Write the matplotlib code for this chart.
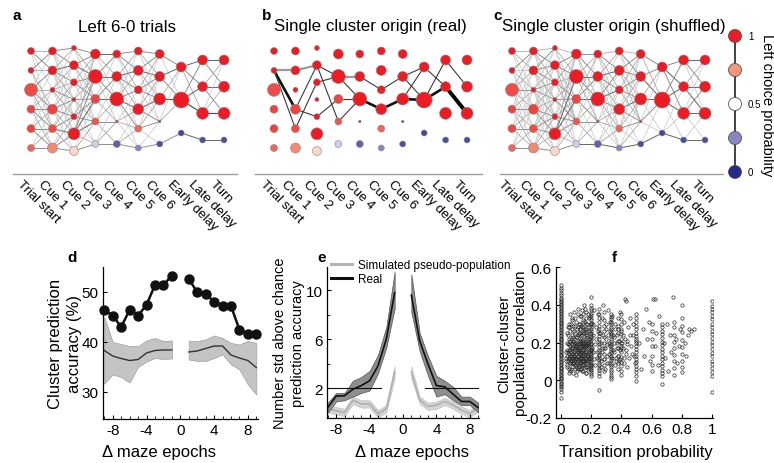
import numpy as np
import matplotlib
matplotlib.use('Agg')
import matplotlib.pyplot as plt
from matplotlib.colors import LinearSegmentedColormap
from matplotlib.lines import Line2D

plt.rcParams['font.family'] = ['Liberation Sans', 'DejaVu Sans']
plt.rcParams['axes.unicode_minus'] = False

# ---------------- data: networks (a, b, c) ----------------
epochs = ['Trial start', 'Cue 1', 'Cue 2', 'Cue 3', 'Cue 4', 'Cue 5', 'Cue 6',
          'Early delay', 'Late delay', 'Turn']

# left-choice probability of each cluster (top to bottom in each epoch)
node_prob = [
    [1.0, 1.0, 0.9, 0.92, 0.92, 0.85],
    [1.0, 1.0, 1.0, 0.92, 0.9, 0.78],
    [1.0, 1.0, 1.0, 1.0, 1.0, 1.0, 0.6],
    [1.0, 1.0, 0.92, 0.88, 0.4],
    [1.0, 1.0, 1.0, 1.0, 0.15],
    [1.0, 1.0, 1.0, 1.0, 0.85, 0.25],
    [1.0, 1.0, 1.0, 1.0, 0.1],
    [1.0, 1.0, 0.08],
    [1.0, 1.0, 1.0, 0.1],
    [1.0, 1.0, 1.0, 0.1],
]
# cluster size (marker diameter, px)
node_size = [
    [7, 6, 13, 8, 8, 7],
    [8, 9, 5, 10, 8, 10],
    [5, 9, 7, 4, 6, 12, 9],
    [10, 14, 9, 7, 7],
    [8, 10, 14, 2.5, 7],
    [8, 10, 8, 11, 7, 6],
    [9, 10, 12, 2.5, 6],
    [10, 16, 6],
    [10, 10, 12, 6],
    [10, 11, 12, 6],
]

# transition strengths between consecutive epochs (digit 0-9 per pair)
edges_a = [
    ["231010", "320210", "132321", "012332", "001233", "000123"],
    ["3311100", "2432110", "1223210", "0123321", "0012342", "0001233"],
    ["32100", "34210", "23310", "12321", "12331", "23442", "00123"],
    ["42100", "34310", "13420", "01232", "00123"],
    ["332100", "243210", "123431", "001221", "000123"],
    ["32100", "34210", "23310", "12430", "01231", "00013"],
    ["310", "430", "250", "120", "003"],
    ["4320", "3450", "0004"],
    ["4300", "2430", "1250", "0004"],
]
edges_c = [
    ["221100", "312110", "223211", "112322", "011232", "001123"],
    ["2321100", "3332110", "1233211", "1122331", "0112332", "0011223"],
    ["22110", "33221", "22320", "12331", "11232", "24432", "00123"],
    ["33210", "24320", "23431", "11232", "00124"],
    ["232110", "243211", "134321", "011221", "001124"],
    ["23110", "33220", "23320", "12431", "11231", "00124"],
    ["320", "340", "241", "131", "014"],
    ["3430", "3441", "0114"],
    ["4310", "2440", "1341", "0014"],
]
# single-origin paths: (epoch, from cluster, to cluster, strength 1-4)
edges_b = [
    (0, 1, 1, 2), (0, 1, 3, 3), (0, 1, 4, 1),
    (1, 1, 1, 2), (1, 3, 1, 1), (1, 3, 4, 1), (1, 4, 2, 1),
    (2, 1, 1, 1), (2, 1, 3, 1), (2, 2, 1, 1), (2, 4, 2, 1),
    (3, 1, 1, 2), (3, 1, 2, 1), (3, 2, 2, 1), (3, 3, 2, 1),
    (4, 1, 2, 1), (4, 2, 3, 3),
    (5, 2, 1, 1), (5, 3, 2, 3),
    (6, 1, 0, 1), (6, 2, 0, 1), (6, 1, 1, 1), (6, 2, 1, 3),
    (7, 0, 1, 1), (7, 1, 0, 1), (7, 1, 1, 3),
    (8, 0, 1, 1), (8, 1, 2, 4),
]
legend_probs = [0.0, 0.25, 0.5, 0.75, 1.0]
legend_labels = {1.0: '1', 0.5: '0.5', 0.0: '0'}

# ---------------- data: d ----------------
d_x_left = [-9, -8, -7, -6, -5, -4, -3, -2, -1]
d_x_right = [1, 2, 3, 4, 5, 6, 7, 8, 9]
d_real_left = [46.4, 45.3, 43.0, 46.4, 45.3, 47.4, 51.4, 51.4, 53.3]
d_real_right = [52.6, 50.0, 49.7, 48.0, 47.2, 47.2, 42.5, 41.6, 41.6]
d_shuf_left = [38.3, 37.2, 36.7, 36.3, 36.5, 37.8, 38.3, 38.4, 38.4]
d_shuf_right = [38.0, 38.2, 38.7, 39.2, 39.2, 37.4, 36.8, 36.3, 34.9]
d_shuf_hi_left = [45.0, 40.0, 39.6, 39.2, 39.2, 40.3, 40.8, 40.2, 40.3]
d_shuf_lo_left = [31.7, 33.5, 33.0, 31.9, 35.0, 36.1, 36.8, 36.6, 36.7]
d_shuf_hi_right = [40.2, 40.2, 40.5, 41.3, 40.8, 39.8, 39.5, 40.2, 39.8]
d_shuf_lo_right = [36.5, 36.2, 36.2, 36.8, 37.5, 35.5, 34.5, 31.5, 29.5]

# ---------------- data: e ----------------
e_x_left = [-9, -8, -7, -6, -5, -4, -3, -2, -1]
e_x_right = [1, 2, 3, 4, 5, 6, 7, 8, 9]
e_real_left = [0.42, 1.35, 1.37, 1.9, 2.2, 2.6, 3.8, 6.0, 9.8]
e_real_hi_left = [0.8, 1.6, 1.6, 2.6, 2.9, 3.4, 4.7, 7.0, 11.5]
e_real_lo_left = [0.0, 0.9, 1.0, 1.3, 1.6, 1.8, 3.2, 5.3, 8.5]
e_real_right = [9.6, 5.85, 3.95, 2.2, 2.1, 1.5, 0.9, 0.9, 0.4]
e_real_hi_right = [11.3, 6.5, 4.6, 3.0, 2.6, 2.1, 1.3, 1.3, 0.8]
e_real_lo_right = [8.2, 5.0, 3.0, 1.3, 1.5, 1.0, 0.6, 0.6, 0.0]
e_sim_left = [0.3, 0.15, 0.0, 1.0, 0.7, 0.7, -0.1, 0.3, 3.3]
e_sim_hi_left = [0.6, 0.45, 0.3, 1.3, 1.0, 1.0, 0.2, 0.6, 3.8]
e_sim_lo_left = [0.0, -0.15, -0.3, 0.7, 0.4, 0.4, -0.4, 0.0, 2.8]
e_sim_right = [3.3, 1.0, 0.5, 0.6, 0.9, 0.6, 0.2, -0.1, 0.4]
e_sim_hi_right = [3.8, 1.3, 0.8, 0.9, 1.2, 0.9, 0.5, 0.2, 0.7]
e_sim_lo_right = [2.8, 0.7, 0.2, 0.3, 0.6, 0.3, -0.1, -0.4, 0.1]
e_threshold = 2.0
e_threshold_left = [-9, -2.6]
e_threshold_right = [2.6, 9]

# ---------------- data: f ----------------
f_y_p0 = [0.502, 0.49, 0.476, 0.462, 0.45, 0.436, 0.428, 0.42, 0.413, 0.404, 0.397, 0.39,
          0.381, 0.373, 0.366, 0.358, 0.349, 0.343, 0.335, 0.326, 0.319, 0.311, 0.303,
          0.296, 0.287, 0.281, 0.272, 0.264, 0.257, 0.249, 0.241, 0.234, 0.226, 0.218,
          0.211, 0.202, 0.196, 0.188, 0.179, 0.172, 0.164, 0.157, 0.149, 0.141, 0.134,
          0.126, 0.118, 0.111, 0.103, 0.096, 0.088, 0.079, 0.072, 0.065, 0.057, 0.049,
          0.042, 0.034, 0.027, 0.019, 0.011, 0.004, -0.004, -0.012, -0.02, -0.029,
          -0.038, -0.047, -0.06, -0.094]
f_y_p125 = [0.34, 0.3, 0.27, 0.24, 0.21, 0.18, 0.15, 0.12, 0.09, 0.06]
f_y_p143 = [0.35, 0.31, 0.28, 0.25, 0.22, 0.19, 0.16, 0.13, 0.1, 0.08, 0.05]
f_y_p167 = [0.36, 0.33, 0.3, 0.27, 0.24, 0.21, 0.18, 0.15, 0.12, 0.1, 0.07, 0.04]
f_y_p200 = [0.40, 0.385, 0.37, 0.355, 0.345, 0.332, 0.318, 0.305, 0.296, 0.284, 0.27,
            0.26, 0.247, 0.236, 0.224, 0.213, 0.2, 0.19, 0.178, 0.167, 0.155, 0.143,
            0.132, 0.121, 0.11, 0.099, 0.088, 0.077, 0.066, 0.055, 0.044, 0.033, 0.022]
f_y_p250 = [0.38, 0.352, 0.33, 0.31, 0.288, 0.27, 0.252, 0.236, 0.22, 0.205, 0.19, 0.176,
            0.162, 0.148, 0.134, 0.12, 0.106, 0.093, 0.08, 0.066, 0.052, 0.038, 0.02]
f_y_p286 = [0.36, 0.32, 0.29, 0.26, 0.23, 0.2, 0.17, 0.14, 0.11, 0.08, 0.05]
f_y_p333 = [0.35, 0.337, 0.322, 0.31, 0.296, 0.283, 0.27, 0.258, 0.245, 0.232, 0.219,
            0.207, 0.194, 0.181, 0.168, 0.156, 0.143, 0.131, 0.118, 0.105, 0.093, 0.08,
            0.068, 0.055, 0.043, 0.03, 0.018, 0.005]
f_y_p375 = [0.33, 0.29, 0.25, 0.21, 0.17, 0.13, 0.09, 0.06]
f_y_p400 = [0.35, 0.322, 0.296, 0.27, 0.245, 0.22, 0.196, 0.172, 0.148, 0.122, 0.098,
            0.073, 0.05, 0.03]
f_y_p500 = [0.35, 0.33, 0.31, 0.29, 0.272, 0.252, 0.235, 0.218, 0.2, 0.183, 0.165, 0.148,
            0.13, 0.112, 0.095, 0.078, 0.06, 0.042, 0.022, -0.005]
f_y_p600 = [0.30, 0.26, 0.22, 0.18, 0.13, 0.08, 0.05]
f_y_p667 = [0.30, 0.28, 0.262, 0.243, 0.225, 0.205, 0.186, 0.168, 0.15, 0.13, 0.112,
            0.094, 0.075, 0.056, 0.038, 0.02, -0.02]
f_y_p750 = [0.31, 0.28, 0.24, 0.205, 0.17, 0.135, 0.1, 0.065, 0.03]
f_y_p800 = [0.40, 0.33, 0.29, 0.255, 0.215, 0.175, 0.14, 0.1, 0.07, 0.045]
f_y_p1000 = [0.42, 0.395, 0.378, 0.36, 0.34, 0.322, 0.3, 0.283, 0.262, 0.243, 0.224,
             0.205, 0.185, 0.164, 0.145, 0.126, 0.104, 0.085, 0.066, 0.045, 0.024, -0.06]
f_col_x = [0.0, 0.125, 0.143, 0.167, 0.2, 0.25, 0.286, 0.333, 0.375, 0.4, 0.5, 0.6,
           0.667, 0.75, 0.8, 1.0]
f_col_y = [f_y_p0, f_y_p125, f_y_p143, f_y_p167, f_y_p200, f_y_p250, f_y_p286, f_y_p333,
           f_y_p375, f_y_p400, f_y_p500, f_y_p600, f_y_p667, f_y_p750, f_y_p800, f_y_p1000]
f_cloud_x = [0.035, 0.038, 0.04, 0.042, 0.045, 0.047, 0.05, 0.05, 0.052, 0.055, 0.057, 0.06,
             0.06, 0.062, 0.064, 0.066, 0.068, 0.07, 0.07, 0.072, 0.074, 0.076, 0.078, 0.08,
             0.08, 0.082, 0.084, 0.086, 0.088, 0.09, 0.09, 0.092, 0.094, 0.096, 0.098, 0.1,
             0.1, 0.102, 0.104, 0.106, 0.108, 0.11, 0.112, 0.114, 0.116, 0.118, 0.12, 0.12,
             0.122, 0.124, 0.128, 0.13, 0.132, 0.134, 0.136, 0.138, 0.14, 0.14, 0.145, 0.148,
             0.15, 0.152, 0.155, 0.157, 0.16, 0.162, 0.164, 0.17, 0.172, 0.175, 0.178, 0.18,
             0.182, 0.185, 0.188, 0.19, 0.192, 0.195, 0.197, 0.06, 0.045, 0.055, 0.1, 0.075,
             0.13, 0.11, 0.085, 0.065, 0.095, 0.105, 0.115, 0.125, 0.135, 0.145, 0.155, 0.165,
             0.175, 0.185, 0.195,
             0.21, 0.215, 0.22, 0.225, 0.23, 0.235, 0.24, 0.245, 0.26, 0.265, 0.27, 0.275,
             0.28, 0.29, 0.295, 0.3, 0.305, 0.31, 0.315, 0.32, 0.325, 0.34, 0.345, 0.35,
             0.355, 0.36, 0.365, 0.37, 0.38, 0.385, 0.39, 0.395, 0.41, 0.415, 0.42, 0.425,
             0.43, 0.435, 0.44, 0.445,
             0.46, 0.47, 0.48, 0.49, 0.52, 0.53, 0.54, 0.55, 0.56, 0.57, 0.58, 0.59, 0.61,
             0.62, 0.63, 0.64, 0.65, 0.68, 0.69, 0.7, 0.71, 0.72, 0.73, 0.74, 0.76, 0.77,
             0.78, 0.79, 0.82, 0.83, 0.84, 0.85, 0.86, 0.88, 0.62, 0.25, 0.43, 0.2, 0.15]
f_cloud_y = [0.12, 0.2, 0.08, 0.16, 0.24, 0.1, 0.06, 0.3, 0.14, 0.19, 0.09, 0.26,
             0.12, 0.05, 0.17, 0.22, 0.1, 0.33, 0.14, 0.07, 0.2, 0.27, 0.12, 0.04,
             0.17, 0.23, 0.09, 0.36, 0.15, 0.29, 0.06, 0.19, 0.11, 0.25, 0.08, 0.14,
             0.31, 0.2, 0.05, 0.17, 0.23, 0.1, 0.28, 0.13, 0.35, 0.07, 0.19, 0.25,
             0.11, 0.16, 0.21, 0.08, 0.29, 0.13, 0.37, 0.18, 0.05, 0.24, 0.1, 0.32,
             0.15, 0.2, 0.07, 0.27, 0.12, 0.38, 0.17, 0.09, 0.23, 0.3, 0.14, 0.06,
             0.19, 0.26, 0.11, 0.34, 0.16, 0.22, 0.08, 0.35, 0.28, 0.04, 0.03, 0.32,
             0.34, 0.38, 0.26, 0.13, 0.17, 0.09, 0.21, 0.27, 0.06, 0.14, 0.25, 0.04,
             0.2, 0.33, 0.12,
             0.3, 0.15, 0.37, 0.08, 0.22, 0.28, 0.12, 0.35, 0.25, 0.1, 0.33, 0.17,
             0.4, 0.06, 0.22, 0.3, 0.13, 0.37, 0.2, 0.09, 0.26, 0.34, 0.16, 0.23,
             0.08, 0.3, 0.12, 0.2, 0.27, 0.1, 0.36, 0.18, 0.24, 0.12, 0.31, 0.43,
             0.16, 0.07, 0.21, 0.28,
             0.33, 0.14, 0.24, 0.09, 0.2, 0.06, 0.27, 0.13, 0.38, 0.22, 0.31, 0.1, 0.43,
             0.18, 0.25, 0.08, 0.34, 0.2, 0.12, 0.3, 0.05, 0.24, 0.15, 0.44, 0.22, 0.09,
             0.18, 0.27, 0.2, 0.13, 0.24, 0.27, 0.26, 0.27, 0.43, -0.05, 0.42, 0.44, 0.4]
f_cloud2 = [
    (0.033, 0.15), (0.036, 0.1), (0.039, 0.25), (0.041, 0.13), (0.043, 0.07), (0.046, 0.19),
    (0.048, 0.15), (0.051, 0.22), (0.053, 0.11), (0.054, 0.28), (0.056, 0.16), (0.058, 0.13),
    (0.059, 0.21), (0.061, 0.09), (0.063, 0.18), (0.065, 0.3), (0.067, 0.15), (0.069, 0.06),
    (0.071, 0.24), (0.073, 0.11), (0.075, 0.17), (0.077, 0.14), (0.079, 0.09), (0.081, 0.29),
    (0.083, 0.13), (0.085, 0.2), (0.087, 0.1), (0.089, 0.22), (0.091, 0.14), (0.093, 0.08),
    (0.095, 0.33), (0.097, 0.18), (0.099, 0.12), (0.101, 0.23), (0.103, 0.16), (0.105, 0.27),
    (0.107, 0.11), (0.109, 0.19), (0.111, 0.06), (0.113, 0.15), (0.115, 0.24), (0.117, 0.1),
    (0.119, 0.3), (0.121, 0.14), (0.123, 0.2), (0.126, 0.09), (0.127, 0.17), (0.129, 0.25),
    (0.131, 0.12), (0.133, 0.19), (0.135, 0.15), (0.137, 0.1), (0.139, 0.28), (0.141, 0.16),
    (0.144, 0.21), (0.146, 0.08), (0.147, 0.18), (0.149, 0.13), (0.151, 0.26), (0.153, 0.1),
    (0.154, 0.17), (0.156, 0.22), (0.158, 0.14), (0.159, 0.31), (0.161, 0.09), (0.163, 0.2),
    (0.166, 0.15), (0.168, 0.26), (0.169, 0.11), (0.171, 0.18), (0.173, 0.07), (0.174, 0.24),
    (0.176, 0.13), (0.177, 0.35), (0.179, 0.17), (0.181, 0.1), (0.183, 0.22), (0.184, 0.15),
    (0.186, 0.28), (0.187, 0.08), (0.189, 0.19), (0.191, 0.13), (0.193, 0.25), (0.194, 0.06),
    (0.196, 0.16), (0.198, 0.3), (0.07, 0.19), (0.08, 0.21), (0.09, 0.16), (0.1, 0.18),
    (0.11, 0.13), (0.12, 0.16), (0.13, 0.14), (0.14, 0.12), (0.15, 0.1), (0.16, 0.18),
    (0.17, 0.13), (0.18, 0.2), (0.19, 0.1), (0.05, 0.12), (0.06, 0.16), (0.07, 0.09),
    (0.08, 0.12), (0.09, 0.11), (0.1, 0.07), (0.11, 0.17), (0.12, 0.08), (0.13, 0.22),
    (0.14, 0.2), (0.15, 0.18),
    (0.205, 0.17), (0.212, 0.24), (0.218, 0.11), (0.228, 0.19), (0.238, 0.15), (0.242, 0.26),
    (0.255, 0.13), (0.262, 0.2), (0.268, 0.07), (0.272, 0.15), (0.278, 0.24), (0.283, 0.11),
    (0.292, 0.17), (0.298, 0.27), (0.302, 0.09), (0.308, 0.19), (0.312, 0.24), (0.318, 0.14),
    (0.322, 0.31), (0.328, 0.18), (0.338, 0.12), (0.342, 0.24), (0.348, 0.2), (0.352, 0.15),
    (0.358, 0.27), (0.362, 0.1), (0.368, 0.17), (0.372, 0.24), (0.378, 0.13), (0.382, 0.21),
    (0.388, 0.16), (0.392, 0.11), (0.398, 0.26), (0.405, 0.2), (0.412, 0.17), (0.418, 0.09),
    (0.422, 0.22), (0.428, 0.14), (0.438, 0.19), (0.448, 0.12), (0.455, 0.24), (0.465, 0.18),
    (0.475, 0.3), (0.485, 0.13), (0.495, 0.21),
]

# ---------------- figure ----------------
W, H = 774, 464
fig = plt.figure(figsize=(W / 100, H / 100), dpi=100)


def px_axes(x0, y0, x1, y1):
    return fig.add_axes([x0 / W, 1 - y1 / H, (x1 - x0) / W, (y1 - y0) / H])


def ftext(x, y, s, **kw):
    return fig.text(x / W, 1 - y / H, s, **kw)


cmap = LinearSegmentedColormap.from_list(
    'lcp', [(0, '#262b85'), (0.25, '#8785c2'), (0.5, '#ffffff'),
            (0.75, '#f5977d'), (1, '#ec1c24')])

ROW_SPAN = {3: (68, 134), 4: (61, 141), 5: (55, 145), 6: (52, 149), 7: (49, 152)}
STEP = 21.45


def draw_network(box, col0, edge_mats=None, edge_list=None):
    x0, y0, x1, y1 = box
    ax = px_axes(x0, y0, x1, y1)
    ax.set_xlim((x0 - col0) / STEP, (x1 - col0) / STEP)
    ax.set_ylim(y1, y0)
    ypos = [np.linspace(ROW_SPAN[len(p)][0], ROW_SPAN[len(p)][1], len(p)) for p in node_prob]
    if edge_mats is not None:
        for k, mat in enumerate(edge_mats):
            for i, row in enumerate(mat):
                for j, ch in enumerate(row):
                    w = int(ch)
                    if w:
                        g = max(0.25, 0.86 - 0.11 * w)
                        ax.plot([k, k + 1], [ypos[k][i], ypos[k + 1][j]],
                                color=(g, g, g), lw=0.35 + 0.1 * w, zorder=1)
    if edge_list is not None:
        style = {1: ('#3a3a3a', 0.8), 2: ('#9a9a9a', 1.6), 3: ('#111111', 1.9),
                 4: ('#000000', 2.8)}
        for k, i, j, w in edge_list:
            c, lw = style[w]
            ax.plot([k, k + 1], [ypos[k][i], ypos[k + 1][j]], color=c, lw=lw,
                    zorder=1, solid_capstyle='round')
    for k in range(len(node_prob)):
        s = [(d * 0.72) ** 2 for d in node_size[k]]
        ax.scatter([k] * len(ypos[k]), ypos[k], s=s, c=cmap(np.array(node_prob[k])),
                   edgecolors='#8a8a8a', linewidths=0.4, zorder=3)
    for k, lab in enumerate(epochs):
        ax.text(k - 8 / STEP, y1 + 3.5, lab, rotation=-45, rotation_mode='anchor',
                ha='left', va='top', fontsize=9.5, clip_on=False)
    for s in ['top', 'right', 'left']:
        ax.spines[s].set_visible(False)
    ax.spines['bottom'].set_color('#a0a0a0')
    ax.spines['bottom'].set_linewidth(1.0)
    ax.set_xticks([])
    ax.set_yticks([])
    ax.patch.set_alpha(0)
    return ax


draw_network((13, 40, 237, 175), 31, edge_mats=edges_a)
draw_network((255, 40, 482, 175), 274, edge_list=edges_b)
draw_network((500, 40, 723, 175), 512, edge_mats=edges_c)

ftext(127.5, 27, 'Left 6-0 trials', ha='center', va='center', fontsize=12.2)
ftext(370, 27, 'Single cluster origin (real)', ha='center', va='center', fontsize=12.2)
ftext(614, 27, 'Single cluster origin (shuffled)', ha='center', va='center', fontsize=12.2)
ftext(17, 16, 'a', ha='center', va='center', fontsize=11, fontweight='bold')
ftext(267, 16, 'b', ha='center', va='center', fontsize=11, fontweight='bold')
ftext(498, 16, 'c', ha='center', va='center', fontsize=11, fontweight='bold')

# colour legend
axl = px_axes(723, 25, 747, 185)
axl.set_xlim(-1, 1)
axl.set_ylim(-(185 - 173) / 136, 1 + (37 - 25) / 136)
axl.plot([0, 0], [0, 1], color='#333333', lw=1.3, zorder=1)
axl.scatter([0] * len(legend_probs), legend_probs, s=(13 * 0.72) ** 2,
            c=cmap(np.array(legend_probs)), edgecolors='#555555', linewidths=0.6, zorder=3)
for p, lab in legend_labels.items():
    axl.text(13 / 12, p, lab, ha='left', va='center', fontsize=7, clip_on=False)
axl.text(32 / 12, 0.5, 'Left choice probability', rotation=-90, ha='center', va='center',
         fontsize=10.5, clip_on=False)
axl.axis('off')


def style_bottom(ax):
    for s in ['top', 'right']:
        ax.spines[s].set_visible(False)
    for s in ['left', 'bottom']:
        ax.spines[s].set_linewidth(0.9)
    ax.tick_params(direction='in', length=3, width=0.8, labelsize=11, pad=3)
    ax.tick_params(which='minor', direction='in', length=2, width=0.6)
    ax.patch.set_alpha(0)


# ---------------- d ----------------
axd = px_axes(103, 268, 258, 420)
for xs, lo, hi, m in [(d_x_left, d_shuf_lo_left, d_shuf_hi_left, d_shuf_left),
                      (d_x_right, d_shuf_lo_right, d_shuf_hi_right, d_shuf_right)]:
    axd.fill_between(xs, lo, hi, facecolor='#c4c4c4', edgecolor='#a0a0a0', lw=0.5, zorder=1)
    axd.plot(xs, m, color='#333333', lw=1.0, zorder=2)
for xs, ys in [(d_x_left, d_real_left), (d_x_right, d_real_right)]:
    axd.plot(xs, ys, color='#111111', lw=1.8, marker='o', ms=6.5, mfc='#111111',
             mec='#111111', zorder=3, clip_on=False)
axd.set_xlim(-9.15, 9.2)
axd.set_ylim(24.6, 55)
axd.set_xticks([-8, -4, 0, 4, 8])
axd.set_xticks(list(range(-9, 10)), minor=True)
axd.set_yticks([30, 40, 50])
style_bottom(axd)
axd.set_xlabel('\u0394 maze epochs', fontsize=12)
axd.xaxis.set_label_coords((159 - 103) / 155, -(453 - 420) / 152)
axd.xaxis.label.set_va('center')
axd.set_ylabel('Cluster prediction\naccuracy (%)', fontsize=12, linespacing=1.35)
axd.yaxis.set_label_coords((65 - 103) / 155, 0.5)
axd.yaxis.label.set_va('center')

# ---------------- e ----------------
axe = px_axes(327, 268, 479, 419)
for xs, lo, hi, m in [(e_x_left, e_sim_lo_left, e_sim_hi_left, e_sim_left),
                      (e_x_right, e_sim_lo_right, e_sim_hi_right, e_sim_right)]:
    axe.fill_between(xs, lo, hi, facecolor='#d4d4d4', edgecolor='#c4c4c4', lw=0.5, zorder=1)
    axe.plot(xs, m, color='#b0b0b0', lw=1.2, zorder=2)
for xs, lo, hi, m in [(e_x_left, e_real_lo_left, e_real_hi_left, e_real_left),
                      (e_x_right, e_real_lo_right, e_real_hi_right, e_real_right)]:
    axe.fill_between(xs, lo, hi, facecolor='#8e8e8e', edgecolor='#555555', lw=0.5, zorder=3)
    axe.plot(xs, m, color='#111111', lw=1.2, zorder=4)
axe.plot(e_threshold_left, [e_threshold] * 2, color='#111111', lw=0.8, zorder=5)
axe.plot(e_threshold_right, [e_threshold] * 2, color='#111111', lw=0.8, zorder=5)
axe.set_xlim(-9.1, 9.1)
axe.set_ylim(-0.45, 11.9)
axe.set_xticks([-8, -4, 0, 4, 8])
axe.set_xticks(list(range(-9, 10)), minor=True)
axe.set_yticks([2, 6, 10])
axe.set_yticks([4, 8], minor=True)
style_bottom(axe)
axe.set_xlabel('\u0394 maze epochs', fontsize=12)
axe.xaxis.set_label_coords((412 - 327) / 152, -(453 - 419) / 151)
axe.xaxis.label.set_va('center')
axe.set_ylabel('Number std above chance\nprediction accuracy', fontsize=10.5,
               linespacing=1.3)
axe.yaxis.set_label_coords((289 - 327) / 152, 0.5)
axe.yaxis.label.set_va('center')
handles = [Line2D([], [], color='#b5b5b5', lw=2.2), Line2D([], [], color='#111111', lw=2.2)]
axe.legend(handles, ['Simulated pseudo-population', 'Real'], loc='upper left',
           bbox_to_anchor=((331 - 327) / 152, (419 - 260) / 151), frameon=False,
           fontsize=8.5, handlelength=1.8, handletextpad=0.5, labelspacing=0.15,
           borderpad=0, borderaxespad=0)

# ---------------- f ----------------
axf = px_axes(556, 268, 713, 419)
fx = []
fy = []
for xv, ys in zip(f_col_x, f_col_y):
    fx += [xv] * len(ys)
    fy += ys
fx += f_cloud_x + [p[0] for p in f_cloud2]
fy += f_cloud_y + [p[1] for p in f_cloud2]
axf.plot(fx, fy, ls='none', marker='o', ms=2.4, mfc='none', mec='#2a2a2a', mew=0.5)
axf.set_xlim(-0.033, 1.007)
axf.set_ylim(-0.2, 0.6)
axf.set_xticks([0, 0.2, 0.4, 0.6, 0.8, 1.0])
axf.set_xticklabels(['0', '0.2', '0.4', '0.6', '0.8', '1'])
axf.set_yticks([-0.2, 0, 0.2, 0.4, 0.6])
axf.set_yticklabels(['-0.2', '0', '0.2', '0.4', '0.6'])
style_bottom(axf)
axf.set_xlabel('Transition probability', fontsize=12)
axf.xaxis.set_label_coords((636 - 556) / 157, -(453 - 419) / 151)
axf.xaxis.label.set_va('center')
axf.set_ylabel('Cluster-cluster\npopulation correlation', fontsize=11, linespacing=1.3)
axf.yaxis.set_label_coords((512.5 - 556) / 157, 0.5)
axf.yaxis.label.set_va('center')

ftext(72, 258, 'd', ha='center', va='center', fontsize=11, fontweight='bold')
ftext(322, 258, 'e', ha='center', va='center', fontsize=11, fontweight='bold')
ftext(614, 258, 'f', ha='center', va='center', fontsize=11, fontweight='bold')

fig.savefig('out.png', dpi=100)
